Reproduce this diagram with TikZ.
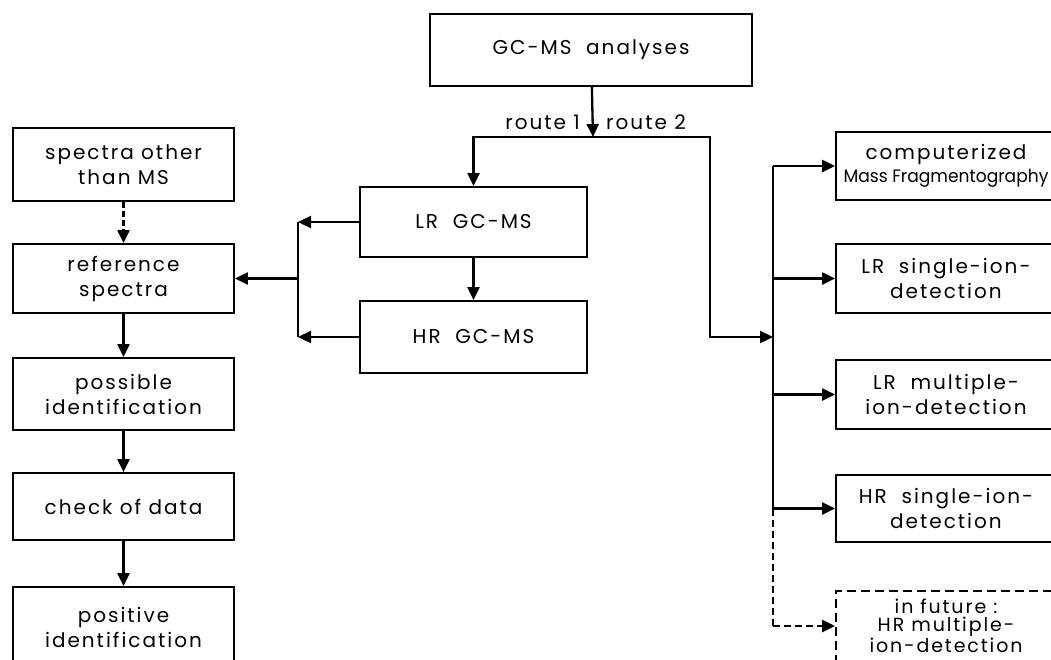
\documentclass[tikz,border=0pt]{standalone}
\usepackage{fontspec}
\newfontfamily\lettering{Poppins}[LetterSpace=10]
\newfontfamily\slimlettering{Poppins}[FakeStretch=0.95]
\usepackage{tikz}
\usetikzlibrary{arrows.meta,positioning}

\tikzset{
  proc/.style={draw,line width=1.9pt,minimum width=221pt,inner sep=0pt,align=center,
    font=\lettering\fontsize{20}{25}\selectfont},
  futproc/.style={proc,dash pattern=on 9pt off 5pt,font=\lettering\fontsize{19}{18}\selectfont},
  flow/.style={-{Triangle[length=13pt,width=12pt]},line width=2.3pt},
  wire/.style={line width=2.3pt},
}

\begin{document}
\begin{tikzpicture}[x=1pt,y=-1pt]
\useasboundingbox (0,0) rectangle (1051,659);
\clip (0,0) rectangle (1051,659);
\fill[white] (0,0) rectangle (1051,659);

% source and the two routes
\node[proc,minimum width=322pt,minimum height=72pt] (gcms) at (591,50) {GC-MS~~analyses};
\node[proc,minimum width=227pt,minimum height=70pt] (lr) at (473.5,222) {LR~~GC-MS};
\node[proc,minimum width=227pt,minimum height=72pt] (hr) at (473.5,337) {HR~~GC-MS};

% left column
\node[proc,minimum height=73pt] (other) at (123.5,164.5) {spectra other\\than MS};
\node[proc,minimum height=69pt] (ref) at (123.5,278.5) {reference\\spectra};
\node[proc,minimum height=72pt] (poss) at (123.5,394) {possible\\identification};
\node[proc,minimum height=67pt] (check) at (123.5,506.5) {check of data};
\node[proc,minimum height=80pt] (pos) at (123.5,627) {positive\\identification};

% right column
\node[proc,minimum width=220pt,minimum height=68pt] (comp) at (946,166)
  {computerized\\[-2pt]{\slimlettering\fontsize{18}{18}\selectfont Mass Fragmentography}};
\node[proc,minimum width=220pt,minimum height=69pt] (lrs) at (946,278.5) {LR~~single-ion-\\detection};
\node[proc,minimum width=220pt,minimum height=69pt] (lrm) at (946,394.5) {LR~~multiple-\\ion-detection};
\node[proc,minimum width=220pt,minimum height=67pt] (hrs) at (946,508.5) {HR~~single-ion-\\detection};
\node[futproc,minimum width=220pt,minimum height=70pt] (fut) at (946,626) {in future :\\HR multiple-\\ion-detection};

\coordinate (split) at (593,137);
\coordinate (r2) at (710,137);
\coordinate (bus) at (773,337);
\coordinate (lbus) at (298,280);

\draw[flow] (gcms) -- (split);
\node[anchor=south east,font=\lettering\fontsize{20}{20}\selectfont,inner sep=0pt] (rt1) at (580,130) {route 1};
\node[anchor=south west,font=\lettering\fontsize{20}{20}\selectfont,inner sep=0pt] (rt2) at (606,130) {route 2};
\draw[flow] (split) -| (lr);
\draw[flow] (split) -- (r2) |- (bus);
\draw[flow] (lr) -- (hr);

% to the reference spectra
\draw[flow] (lr.west) -- (lr.west -| lbus);
\draw[flow] (hr.west) -- (hr.west -| lbus);
\draw[wire] (lr.west -| lbus) -- (hr.west -| lbus);
\draw[flow] (ref -| lbus) -- (ref);

\draw[flow,dash pattern=on 6pt off 3pt] (other) -- (ref);
\draw[flow] (ref) -- (poss);
\draw[flow] (poss) -- (check);
\draw[flow] (check) -- (pos);

% detection modes
\draw[wire] (comp -| bus) -- (hrs -| bus);
\foreach \m in {comp,lrs,lrm,hrs}
  \draw[flow] (\m -| bus) -- (\m);
\draw[wire,dash pattern=on 7pt off 4pt] (hrs -| bus) -- (fut -| bus);
\draw[flow,dash pattern=on 7pt off 4pt] (fut -| bus) -- (fut);
\end{tikzpicture}
\end{document}
